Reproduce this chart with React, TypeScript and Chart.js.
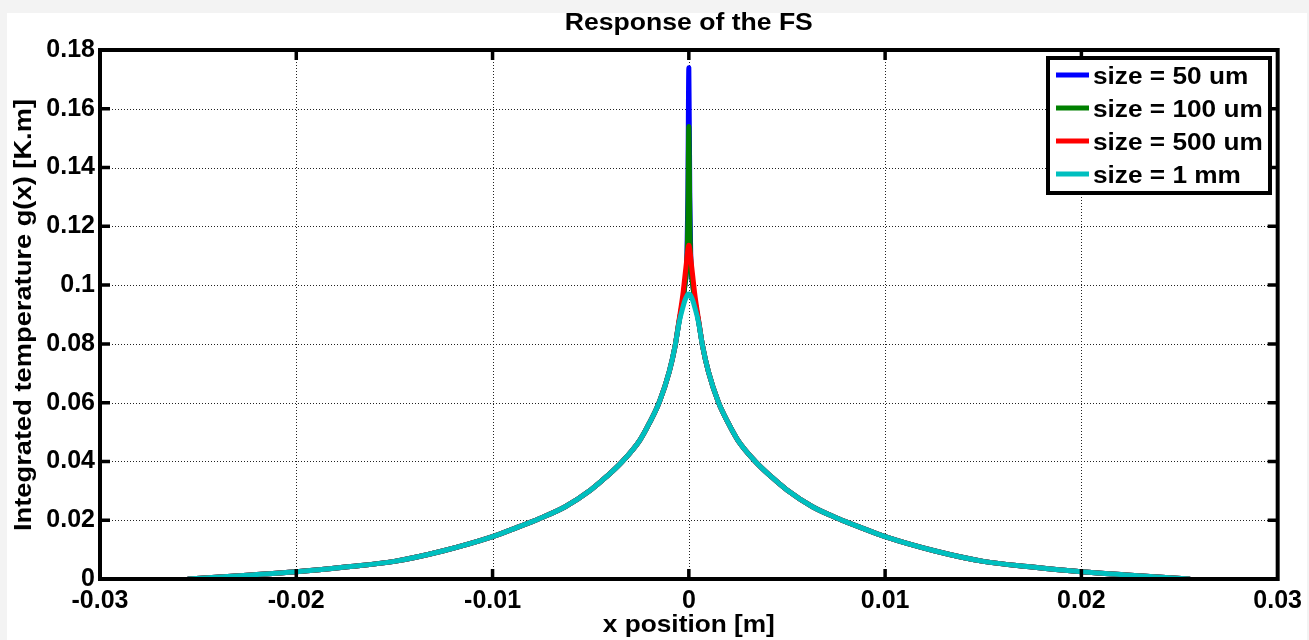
import React, { useEffect, useRef } from "react";
import { Chart, registerables } from "chart.js";

Chart.register(...registerables);

// ---------- data ----------
const xPositions = [
  -0.0255, -0.0225, -0.02, -0.0175, -0.015, -0.0125, -0.01, -0.0088, -0.0076, -0.0063, -0.005,
  -0.0042, -0.0034, -0.0025, -0.002, -0.0015, -0.001, -0.0007, -0.0005, -0.0003, -0.0002, -0.0001,
  -0.00005, 0, 0.00005, 0.0001, 0.0002, 0.0003, 0.0005, 0.0007, 0.001, 0.0015, 0.002, 0.0025,
  0.0034, 0.0042, 0.005, 0.0063, 0.0076, 0.0088, 0.01, 0.0125, 0.015, 0.0175, 0.02, 0.0225, 0.0255,
];

const size50um = [
  0, 0.0013, 0.0025, 0.0041, 0.006, 0.0096, 0.0144, 0.0174, 0.0206, 0.0246, 0.0303,
  0.0348, 0.0399, 0.0472, 0.0532, 0.0603, 0.0705, 0.0793, 0.0875, 0.095, 0.1, 0.109,
  0.13, 0.174, 0.13, 0.109, 0.1, 0.095, 0.0875, 0.0793, 0.0705, 0.0603, 0.0532, 0.0472,
  0.0399, 0.0348, 0.0303, 0.0246, 0.0206, 0.0174, 0.0144, 0.0096, 0.006, 0.0041, 0.0025, 0.0013, 0,
];

const size100um = [
  0, 0.0013, 0.0025, 0.0041, 0.006, 0.0096, 0.0144, 0.0174, 0.0206, 0.0246, 0.0303,
  0.0348, 0.0399, 0.0472, 0.0532, 0.0603, 0.0705, 0.0793, 0.0875, 0.095, 0.1, 0.108,
  0.122, 0.154, 0.122, 0.108, 0.1, 0.095, 0.0875, 0.0793, 0.0705, 0.0603, 0.0532, 0.0472,
  0.0399, 0.0348, 0.0303, 0.0246, 0.0206, 0.0174, 0.0144, 0.0096, 0.006, 0.0041, 0.0025, 0.0013, 0,
];

const size500um = [
  0, 0.0013, 0.0025, 0.0041, 0.006, 0.0096, 0.0144, 0.0174, 0.0206, 0.0246, 0.0303,
  0.0348, 0.0399, 0.0472, 0.0532, 0.0603, 0.0705, 0.0793, 0.088, 0.097, 0.103, 0.109,
  0.112, 0.1136, 0.112, 0.109, 0.103, 0.097, 0.088, 0.0793, 0.0705, 0.0603, 0.0532, 0.0472,
  0.0399, 0.0348, 0.0303, 0.0246, 0.0206, 0.0174, 0.0144, 0.0096, 0.006, 0.0041, 0.0025, 0.0013, 0,
];

const size1mm = [
  0, 0.0013, 0.0025, 0.0041, 0.006, 0.0096, 0.0144, 0.0174, 0.0206, 0.0246, 0.0303,
  0.0348, 0.0399, 0.0472, 0.0532, 0.0603, 0.0705, 0.0793, 0.0872, 0.0925, 0.0948, 0.0963,
  0.0968, 0.097, 0.0968, 0.0963, 0.0948, 0.0925, 0.0872, 0.0793, 0.0705, 0.0603, 0.0532, 0.0472,
  0.0399, 0.0348, 0.0303, 0.0246, 0.0206, 0.0174, 0.0144, 0.0096, 0.006, 0.0041, 0.0025, 0.0013, 0,
];

const seriesValues = [size50um, size100um, size500um, size1mm];
const seriesLabels = ["size = 50 um", "size = 100 um", "size = 500 um", "size = 1 mm"];
const seriesColors = ["#0000ff", "#008000", "#ff0000", "#00bfbf"];

const xTicks = [-0.03, -0.02, -0.01, 0, 0.01, 0.02, 0.03];
const yTicks = [0, 0.02, 0.04, 0.06, 0.08, 0.1, 0.12, 0.14, 0.16, 0.18];

const chartTitle = "Response of the FS";
const xTitle = "x position [m]";
const yTitle = "Integrated temperature g(x) [K.m]";

// ---------- helpers ----------
const FONT_FAMILY = "'Liberation Sans', Arial, sans-serif";
const fmt = (v: number) => String(Number(v.toFixed(4)));

function stretchedText(
  ctx: CanvasRenderingContext2D,
  text: string,
  x: number,
  y: number,
  fontPx: number,
  targetLen: number,
  align: "left" | "center",
  rotate = 0
) {
  ctx.save();
  ctx.font = `bold ${fontPx}px ${FONT_FAMILY}`;
  ctx.fillStyle = "#000";
  ctx.textBaseline = "alphabetic";
  ctx.textAlign = "left";
  const w = ctx.measureText(text).width;
  const s = targetLen / w;
  ctx.translate(x, y);
  if (rotate) ctx.rotate(rotate);
  ctx.scale(s, 1);
  ctx.fillText(text, align === "center" ? -w / 2 : 0, 0);
  ctx.restore();
}

const decorPlugin = {
  id: "decor",
  beforeDraw(chart: any) {
    const ctx = chart.ctx as CanvasRenderingContext2D;
    ctx.save();
    ctx.fillStyle = "#f3f3f3";
    ctx.fillRect(0, 0, chart.width, chart.height);
    ctx.fillStyle = "#ffffff";
    ctx.fillRect(7, 13, 1300, chart.height - 13);
    ctx.restore();
  },
  beforeDatasetsDraw(chart: any) {
    const ctx = chart.ctx as CanvasRenderingContext2D;
    const { left, right, top, bottom } = chart.chartArea;
    const xs = chart.scales.x;
    const ys = chart.scales.y;
    ctx.save();
    ctx.strokeStyle = "#222";
    ctx.lineWidth = 1;
    ctx.setLineDash([1, 2]);
    xTicks.slice(1, -1).forEach((v) => {
      const px = Math.round(xs.getPixelForValue(v)) + 0.5;
      ctx.beginPath();
      ctx.moveTo(px, top);
      ctx.lineTo(px, bottom);
      ctx.stroke();
    });
    yTicks.slice(1, -1).forEach((v) => {
      const py = Math.round(ys.getPixelForValue(v)) + 0.5;
      ctx.beginPath();
      ctx.moveTo(left, py);
      ctx.lineTo(right, py);
      ctx.stroke();
    });
    ctx.restore();
  },
  afterDatasetsDraw(chart: any) {
    const ctx = chart.ctx as CanvasRenderingContext2D;
    const { left, right, top, bottom } = chart.chartArea;
    const xs = chart.scales.x;
    const ys = chart.scales.y;
    ctx.save();
    ctx.strokeStyle = "#000";
    ctx.lineWidth = 4;
    ctx.strokeRect(left, top, right - left, bottom - top);
    ctx.lineWidth = 3.5;
    const tl = 10;
    xTicks.slice(1, -1).forEach((v) => {
      const px = xs.getPixelForValue(v);
      ctx.beginPath();
      ctx.moveTo(px, bottom);
      ctx.lineTo(px, bottom - tl);
      ctx.moveTo(px, top);
      ctx.lineTo(px, top + tl);
      ctx.stroke();
    });
    yTicks.slice(1, -1).forEach((v) => {
      const py = ys.getPixelForValue(v);
      ctx.beginPath();
      ctx.moveTo(left, py);
      ctx.lineTo(left + tl, py);
      ctx.moveTo(right, py);
      ctx.lineTo(right - tl, py);
      ctx.stroke();
    });
    ctx.restore();
  },
  afterDraw(chart: any) {
    const ctx = chart.ctx as CanvasRenderingContext2D;
    const { left, right } = chart.chartArea;
    // title
    stretchedText(ctx, chartTitle, (left + right) / 2, 30, 23, 248, "center");
    // x-axis title
    stretchedText(ctx, xTitle, (left + right) / 2, 632, 24, 172, "center");
    // y-axis title
    stretchedText(ctx, yTitle, 31, 315, 23, 432, "center", -Math.PI / 2);

    // legend
    const lx = 1048, ly = 58, lw = 222, lh = 135;
    ctx.save();
    ctx.fillStyle = "#fff";
    ctx.fillRect(lx, ly, lw, lh);
    ctx.strokeStyle = "#000";
    ctx.lineWidth = 4;
    ctx.strokeRect(lx, ly, lw, lh);
    ctx.restore();
    const rowBase = [84, 117, 150, 183];
    seriesLabels.forEach((lab, i) => {
      const yb = rowBase[i];
      ctx.save();
      ctx.strokeStyle = seriesColors[i];
      ctx.lineWidth = 5;
      ctx.beginPath();
      ctx.moveTo(1056, yb - 9);
      ctx.lineTo(1089, yb - 9);
      ctx.stroke();
      ctx.restore();
      ctx.save();
      ctx.font = `bold 23px ${FONT_FAMILY}`;
      const w = ctx.measureText(lab).width;
      ctx.restore();
      stretchedText(ctx, lab, 1093, yb, 23, w * 1.14, "left");
    });
  },
};

export default function App() {
  const canvasRef = useRef<HTMLCanvasElement | null>(null);

  useEffect(() => {
    const canvas = canvasRef.current;
    if (!canvas) return;
    const tickFont = { family: FONT_FAMILY, size: 25, weight: "bold" as const };
    const chart = new Chart(canvas, {
      type: "line",
      data: {
        datasets: seriesValues.map((vals, i) => ({
          label: seriesLabels[i],
          data: xPositions.map((x, j) => ({ x, y: vals[j] })),
          borderColor: seriesColors[i],
          backgroundColor: seriesColors[i],
          borderWidth: 5,
          pointRadius: 0,
          fill: false,
          cubicInterpolationMode: "monotone" as const,
          borderJoinStyle: "round" as const,
          borderCapStyle: "round" as const,
          order: 3 - i,
        })),
      },
      options: {
        animation: false,
        responsive: false,
        maintainAspectRatio: false,
        layout: { padding: { left: 0, right: 29, top: 50, bottom: 0 } },
        plugins: {
          legend: { display: false },
          title: { display: false },
          tooltip: { enabled: false },
        },
        scales: {
          x: {
            type: "linear",
            min: -0.03,
            max: 0.03,
            afterBuildTicks: (scale: any) => {
              scale.ticks = xTicks.map((v) => ({ value: v }));
            },
            afterFit: (scale: any) => {
              scale.height = 61;
            },
            ticks: {
              font: tickFont,
              color: "#000",
              padding: 7,
              maxRotation: 0,
              autoSkip: false,
              callback: (v: any) => fmt(Number(v)),
            },
            grid: { display: false, drawTicks: false },
            border: { display: false },
          },
          y: {
            type: "linear",
            min: 0,
            max: 0.18,
            afterBuildTicks: (scale: any) => {
              scale.ticks = yTicks.map((v) => ({ value: v }));
            },
            afterFit: (scale: any) => {
              scale.width = 100;
            },
            ticks: {
              font: tickFont,
              color: "#000",
              padding: 5,
              autoSkip: false,
              callback: (v: any) => fmt(Number(v)),
            },
            grid: { display: false, drawTicks: false },
            border: { display: false },
          },
        },
      },
      plugins: [decorPlugin],
    });
    return () => chart.destroy();
  }, []);

  return (
    <div style={{ position: "fixed", left: 0, top: 0, width: 1309, height: 640 }}>
      <canvas ref={canvasRef} width={1309} height={640} style={{ width: 1309, height: 640, display: "block" }} />
    </div>
  );
}
